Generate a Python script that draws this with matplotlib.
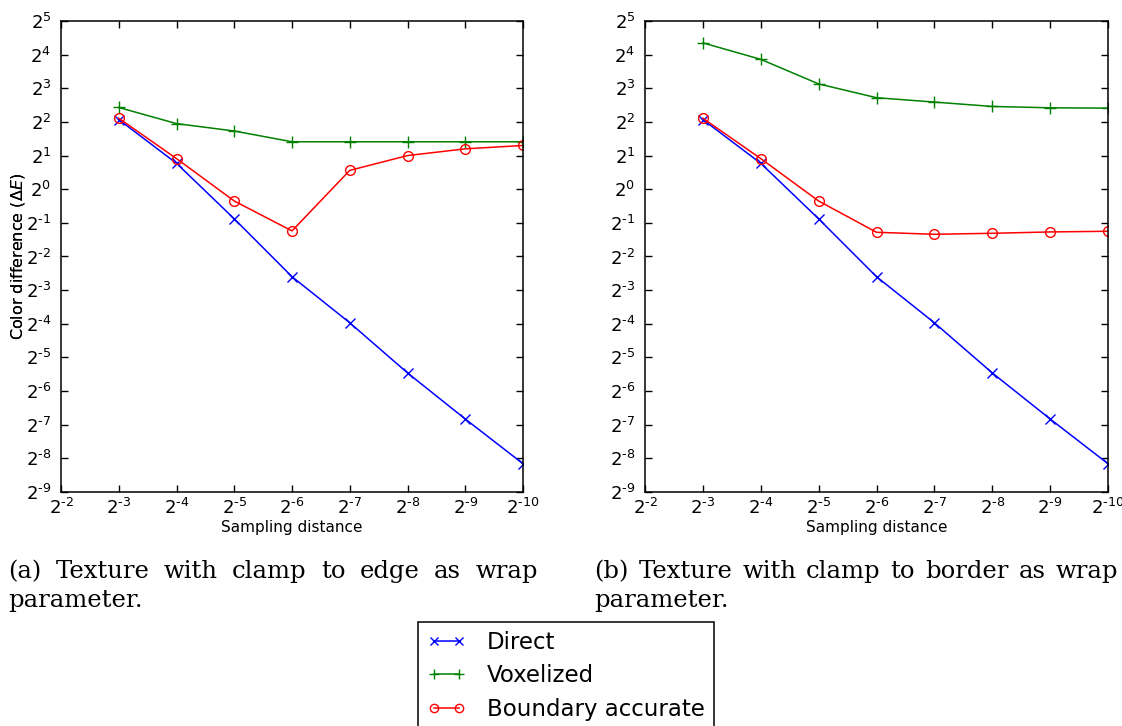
import matplotlib
matplotlib.use("Agg")
import matplotlib.pyplot as plt
from matplotlib.ticker import LogLocator, FuncFormatter, NullLocator
from matplotlib.lines import Line2D
import numpy as np

plt.rcParams["axes.unicode_minus"] = False

# Data (log2 values)
sampling_exp = [-3, -4, -5, -6, -7, -8, -9, -10]
direct_exp = [2.07, 0.77, -0.88, -2.60, -3.97, -5.46, -6.83, -8.16]
vox_edge_exp = [2.43, 1.95, 1.73, 1.41, 1.41, 1.41, 1.41, 1.41]
acc_edge_exp = [2.11, 0.91, -0.35, -1.24, 0.56, 1.00, 1.20, 1.30]
vox_border_exp = [4.35, 3.86, 3.13, 2.72, 2.59, 2.46, 2.42, 2.41]
acc_border_exp = [2.11, 0.91, -0.35, -1.28, -1.34, -1.31, -1.27, -1.25]

captions = ["(a) Texture with clamp to edge as wrap",
            "(b) Texture with clamp to border as wrap"]
caption_tail = "parameter."

x = [2.0 ** e for e in sampling_exp]
direct = [2.0 ** e for e in direct_exp]


def pow2_label(v, pos):
    n = int(round(np.log2(v)))
    if n < 0:
        return r"$\mathdefault{2^{\text{-}%d}}$" % (-n)
    return r"$\mathdefault{2^{%d}}$" % n


W, H = 1122, 726
fig = plt.figure(figsize=(W / 100, H / 100), dpi=100)

panels = [
    (61, 523, vox_edge_exp, acc_edge_exp),
    (645, 1108, vox_border_exp, acc_border_exp),
]

for left, right, vox_exp, acc_exp in panels:
    ax = fig.add_axes([left / W, 1 - 492 / H, (right - left) / W, (492 - 21) / H])
    vox = [2.0 ** e for e in vox_exp]
    acc = [2.0 ** e for e in acc_exp]
    ax.plot(x, direct, color="b", marker="x", markersize=7, lw=1.1, label="Direct")
    ax.plot(x, vox, color="g", marker="+", markersize=8, lw=1.1, label="Voxelized")
    ax.plot(x, acc, color="r", marker="o", markersize=7, mfc="none", mec="r",
            lw=1.1, label="Boundary accurate")
    ax.set_xscale("log", base=2)
    ax.set_yscale("log", base=2)
    ax.set_xlim(2.0 ** -2, 2.0 ** -10)
    ax.set_ylim(2.0 ** -9, 2.0 ** 5)
    for axis in (ax.xaxis, ax.yaxis):
        axis.set_major_locator(LogLocator(base=2, numticks=20))
        axis.set_major_formatter(FuncFormatter(pow2_label))
        axis.set_minor_locator(NullLocator())
    ax.tick_params(direction="in", top=True, right=True, length=5, width=1,
                   labelsize=13, pad=7)
    ax.tick_params(axis="x", pad=4)
    for s in ax.spines.values():
        s.set_linewidth(1.1)
    ax.set_xlabel("Sampling distance", fontsize=11, labelpad=2)
    ax.set_ylabel(r"Color difference ($\Delta E$)", fontsize=11.5)
    ax.yaxis.set_label_coords((27 - left) / (right - left), 0.5)

# Captions, justified on the first line
fig.canvas.draw()
renderer = fig.canvas.get_renderer()
cap_font = dict(family="DejaVu Serif", fontsize=17.5)


def justified(text, x0, x1, ybase):
    words = text.split()
    objs = [fig.text(0, 0, w, **cap_font) for w in words]
    widths = [o.get_window_extent(renderer).width for o in objs]
    gap = (x1 - x0 - sum(widths)) / (len(words) - 1)
    xpos = x0
    for o, w in zip(objs, widths):
        o.set_position((xpos / W, 1 - ybase / H))
        o.set_va("baseline")
        xpos += w + gap


justified(captions[0], 8, 538, 578)
justified(captions[1], 594, 1118, 578)
fig.text(8 / W, 1 - 607 / H, caption_tail, va="baseline", **cap_font)
fig.text(594 / W, 1 - 607 / H, caption_tail, va="baseline", **cap_font)

handles = [
    Line2D([], [], color="b", marker="x", markersize=6, lw=1.1),
    Line2D([], [], color="g", marker="+", markersize=7, lw=1.1),
    Line2D([], [], color="r", marker="o", markersize=6, mfc="none", lw=1.1),
]
leg = fig.legend(handles, ["Direct", "Voxelized", "Boundary accurate"],
                 loc="upper center", bbox_to_anchor=(566 / W, 1 - 622 / H),
                 fontsize=16.5, numpoints=2, handlelength=1.7, handletextpad=0.9,
                 labelspacing=0.45, borderpad=0.4, borderaxespad=0, fancybox=False,
                 framealpha=1, edgecolor="black")
leg.get_frame().set_linewidth(1.1)

fig.savefig("out.png", dpi=100)
